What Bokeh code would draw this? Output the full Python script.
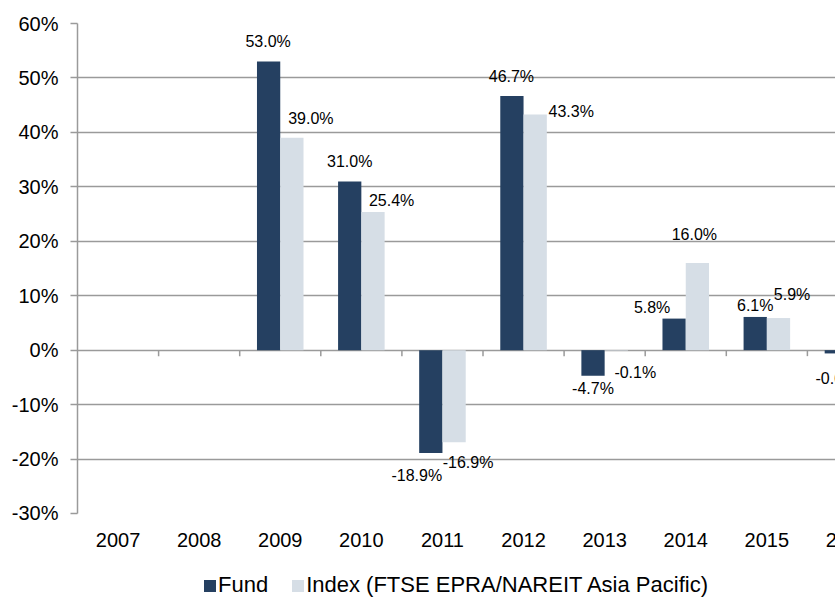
import math
from bokeh.plotting import figure
from bokeh.layouts import column
from bokeh.models import (ColumnDataSource, Range1d, FixedTicker, Legend, LegendItem,
                          PrintfTickFormatter)
from bokeh.transform import dodge
from bokeh.core.properties import value
from bokeh.embed import file_html
from bokeh.resources import INLINE

# ---------------- data ----------------
years = ["2007", "2008", "2009", "2010", "2011", "2012", "2013", "2014", "2015", "2016"]
fund = [None, None, 53.0, 31.0, -18.9, 46.7, -4.7, 5.8, 6.1, -0.6]
index_vals = [None, None, 39.0, 25.4, -16.9, 43.3, -0.1, 16.0, 5.9, None]
y_ticks = [-30, -20, -10, 0, 10, 20, 30, 40, 50, 60]
series_names = ["Fund", "Index (FTSE EPRA/NAREIT Asia Pacific)"]

# label nudges in pixels (styling)
fund_dx = [0, 0, -0.5, 0, -14, -0.5, 0, -22, 0, 0]
fund_dy = [0, 0, -20, -20, 22, -19.5, 13, -11, -11, 25]
index_dx = [0, 0, 19, 18.6, 14, 36, 19, -3, 13.6, 0]
index_dy = [0, 0, -19, -11.5, 20, -3, 21.5, -29, -24, 0]

FONT = "Liberation Sans"
FUND_COLOR = "#254061"
INDEX_COLOR = "#D6DEE6"
GRID_COLOR = "#9A9A9A"

W, H = 835, 597
CAT_PX = 81.1
BORDER_L, BORDER_T = 77, 23
FRAME_H = 490
BORDER_B = 10
H_MAIN = BORDER_T + FRAME_H + BORDER_B
H_STRIP = H - H_MAIN
BAR_W = 0.287
SHIFT = BAR_W / 2

xs = list(range(len(years)))


def num(v):
    return float("nan") if v is None else v


bars = ColumnDataSource(dict(x=xs, fund=[num(v) for v in fund], index=[num(v) for v in index_vals]))


def label_source(vals, dx, dy):
    d = dict(x=[], y=[], t=[], dx=[], dy=[])
    for i, v in enumerate(vals):
        if v is None:
            continue
        d["x"].append(i)
        d["y"].append(v)
        d["t"].append(f"{v:.1f}%")
        d["dx"].append(dx[i])
        d["dy"].append(dy[i])
    return ColumnDataSource(d)


fund_lbl = label_source(fund, fund_dx, fund_dy)
index_lbl = label_source(index_vals, index_dx, index_dy)

frame_w = W - BORDER_L
x_range = Range1d(-0.5, -0.5 + frame_w / CAT_PX)
p = figure(width=W, height=H_MAIN, output_backend="svg", toolbar_location=None,
           x_range=x_range, y_range=Range1d(y_ticks[0], y_ticks[-1]),
           min_border_left=BORDER_L, min_border_right=0, min_border_top=BORDER_T,
           min_border_bottom=BORDER_B)
p.outline_line_color = None
p.background_fill_color = "white"
p.border_fill_color = "white"
p.xaxis.visible = False

# grid
p.xgrid.visible = False
p.ygrid.ticker = FixedTicker(ticks=y_ticks)
p.ygrid.grid_line_color = GRID_COLOR
p.ygrid.grid_line_width = 1.5

# y axis
p.yaxis.ticker = FixedTicker(ticks=y_ticks)
p.yaxis.formatter = PrintfTickFormatter(format="%d%%")
p.yaxis.axis_line_color = GRID_COLOR
p.yaxis.axis_line_width = 1.5
p.yaxis.major_tick_line_color = GRID_COLOR
p.yaxis.major_tick_line_width = 1.5
p.yaxis.major_tick_out = 7
p.yaxis.major_tick_in = 0
p.yaxis.minor_tick_line_color = None
p.yaxis.major_label_standoff = 12
p.yaxis.major_label_text_font = FONT
p.yaxis.major_label_text_font_size = "20px"
p.yaxis.major_label_text_color = "black"

# bars
r_fund = p.vbar(x=dodge("x", -SHIFT, range=x_range), top="fund", width=BAR_W, bottom=0,
                source=bars, fill_color=FUND_COLOR, line_color=None)
r_index = p.vbar(x=dodge("x", SHIFT, range=x_range), top="index", width=BAR_W, bottom=0,
                 source=bars, fill_color=INDEX_COLOR, line_color=None)

# category tick marks on the zero line
p.segment(x0=[i + 0.5 for i in xs], y0=0, x1=[i + 0.5 for i in xs], y1=-1.1,
          line_color=GRID_COLOR, line_width=1.5)

# data labels
for src, sh in ((fund_lbl, -SHIFT), (index_lbl, SHIFT)):
    p.text(x=dodge("x", sh, range=x_range), y="y", text="t", source=src,
           x_offset="dx", y_offset="dy", text_align="center", text_baseline="middle",
           text_font=value(FONT), text_font_size="16px", text_color="black")

# ---------------- category labels + legend strip ----------------
pl = figure(width=W, height=H_STRIP, output_backend="svg", toolbar_location=None,
            x_range=x_range, y_range=Range1d(0, H_STRIP),
            min_border_left=0, min_border_right=0, min_border_top=0, min_border_bottom=0)
pl.axis.visible = False
pl.grid.visible = False
pl.outline_line_color = None
pl.background_fill_color = "white"
pl.border_fill_color = "white"

# year labels, centred under each category (row sits 16px below the strip top)
cat_src = ColumnDataSource(dict(x=xs, t=years, y=[H_STRIP - 16] * len(xs)))
pl.text(x="x", y="y", text="t", source=cat_src, text_align="center",
        text_baseline="middle", text_font=value(FONT), text_font_size="20px",
        text_color="black")

# zero-height proxy glyphs, only used to draw the legend swatches
proxy = ColumnDataSource(dict(x=[0.0], top=[0.0]))
lg_fund = pl.vbar(x="x", top="top", bottom=0, width=0.01, source=proxy,
                  fill_color=FUND_COLOR, line_color=None)
lg_index = pl.vbar(x="x", top="top", bottom=0, width=0.01, source=proxy,
                   fill_color=INDEX_COLOR, line_color=None)

legend = Legend(items=[LegendItem(label=series_names[0], renderers=[lg_fund]),
                       LegendItem(label=series_names[1], renderers=[lg_index])],
                location=(125, -1), orientation="horizontal",
                glyph_width=15, glyph_height=15, label_standoff=1, spacing=22,
                padding=0, margin=0, border_line_color=None, background_fill_alpha=0,
                label_text_font=FONT, label_text_font_size="22px", label_height=15,
                label_text_color="black")
pl.add_layout(legend, "center")

layout = column(p, pl, spacing=0)
open("out.html", "w").write(file_html(layout, INLINE))
